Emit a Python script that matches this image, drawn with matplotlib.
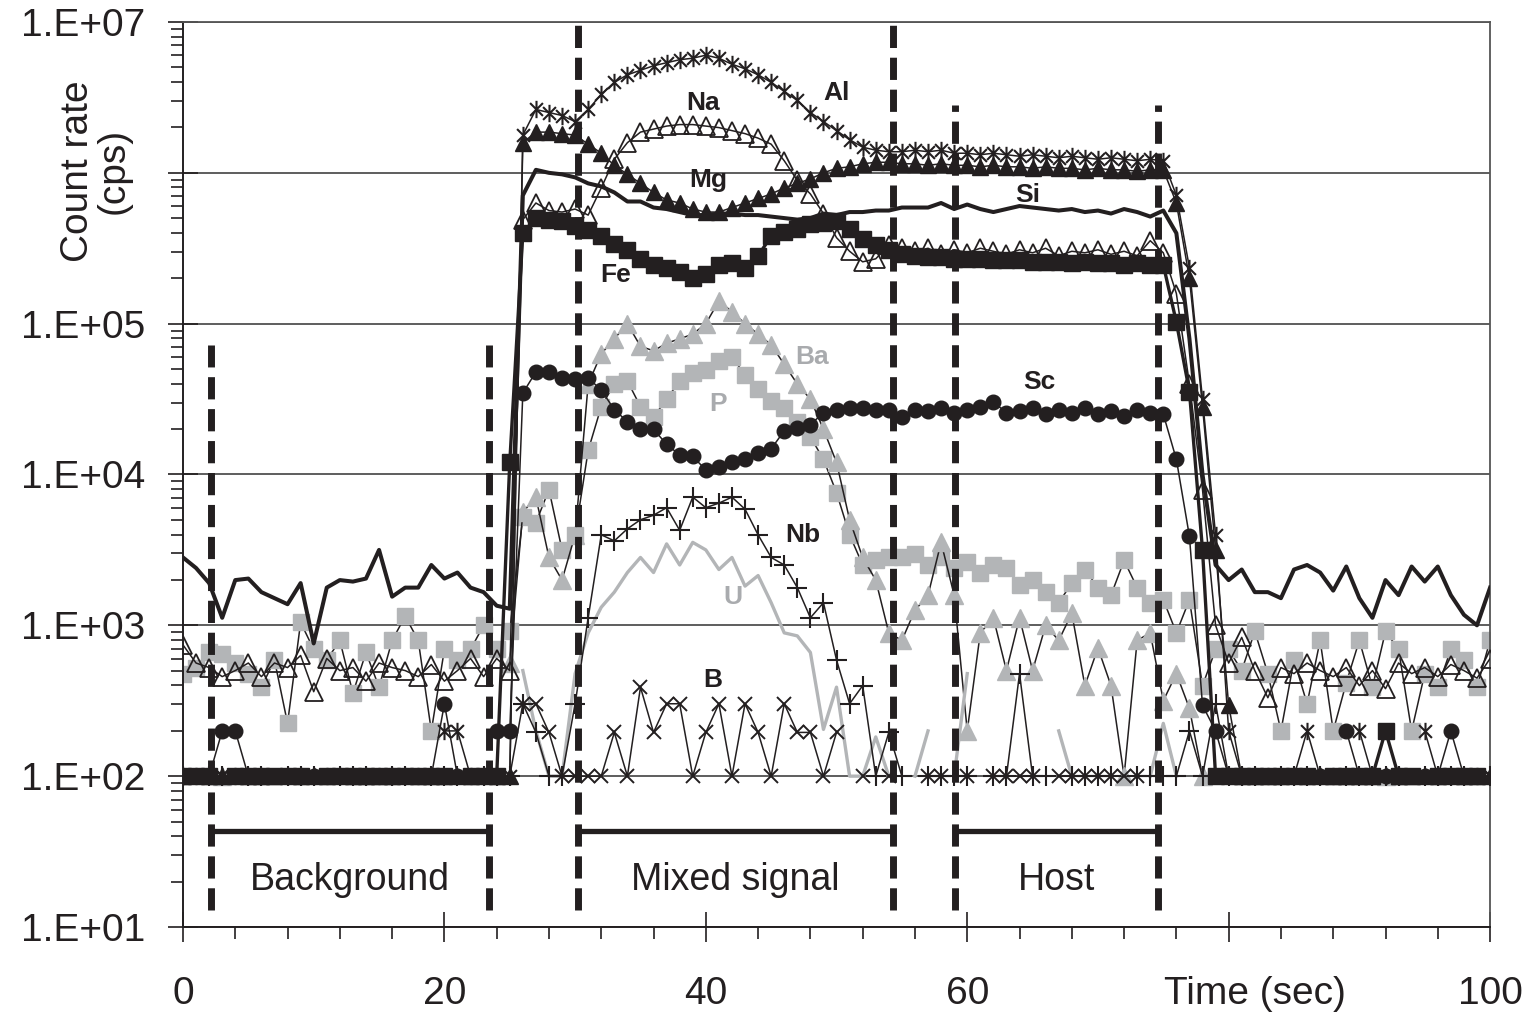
import numpy as np
import matplotlib.pyplot as plt
from matplotlib.path import Path
from matplotlib.ticker import MultipleLocator, LogLocator, NullFormatter

plt.rcParams['font.family'] = ['Liberation Sans', 'DejaVu Sans']

nan = np.nan
# one reading per second, 0..100 s
time_s = np.arange(0, 101)

# count rates, kept as log10(cps); nan = zero counts (not plotted)
si_log = [3.45, 3.38, 3.28, 3.05, 3.30, 3.31, 3.22, 3.18, 3.14, 3.28,
          2.88, 3.25, 3.30, 3.29, 3.31, 3.50, 3.19, 3.25, 3.25, 3.40,
          3.31, 3.35, 3.25, 3.22, 3.13, 3.11, 5.85, 6.02, 6.00, 5.99,
          5.97, 5.93, 5.91, 5.87, 5.81, 5.81, 5.77, 5.76, 5.74, 5.72,
          5.72, 5.73, 5.73, 5.72, 5.72, 5.71, 5.70, 5.69, 5.70, 5.73,
          5.72, 5.74, 5.74, 5.75, 5.75, 5.77, 5.77, 5.77, 5.80, 5.76,
          5.79, 5.76, 5.74, 5.76, 5.78, 5.77, 5.76, 5.75, 5.76, 5.74,
          5.75, 5.73, 5.76, 5.74, 5.71, 5.75, 5.60, 4.90, 4.00, 3.40,
          3.30, 3.37, 3.22, 3.22, 3.18, 3.37, 3.40, 3.35, 3.23, 3.39,
          3.18, 3.05, 3.30, 3.20, 3.39, 3.29, 3.39, 3.20, 3.07, 3.00, 3.25]

al_log = [2.0, 2.0, nan, 2.0, 2.0, 2.0, 2.0, nan, 2.0, 2.0,
          2.0, 2.0, 2.0, nan, 2.0, 2.0, 2.0, 2.0, 2.0, nan,
          2.3, 2.3, 2.0, 2.0, 2.0, 2.0, 6.25, 6.42, 6.40, 6.38,
          6.34, 6.42, 6.52, 6.60, 6.65, 6.68, 6.71, 6.73, 6.75, 6.76,
          6.78, 6.76, 6.72, 6.69, 6.65, 6.60, 6.54, 6.48, 6.40, 6.34,
          6.28, 6.22, 6.17, 6.15, 6.14, 6.14, 6.15, 6.14, 6.15, 6.13,
          6.13, 6.12, 6.13, 6.12, 6.11, 6.12, 6.11, 6.10, 6.11, 6.10,
          6.09, 6.10, 6.09, 6.08, 6.09, 6.08, 5.85, 5.37, 4.50, 3.60,
          2.30, 2.0, 2.0, 2.0, nan, 2.0, 2.30, 2.0, 2.0, nan,
          2.30, 2.0, 2.0, 2.0, nan, 2.30, 2.0, 2.0, 2.0, 2.0, 2.0]

mg_log = [2.0, nan, 2.0, 2.0, nan, 2.0, 2.0, 2.0, nan, 2.0,
          2.0, 2.0, nan, 2.0, 2.0, 2.0, 2.0, nan, 2.0, 2.0,
          2.0, 2.0, 2.0, nan, 2.0, 2.0, 6.20, 6.27, 6.27, 6.26,
          6.25, 6.19, 6.13, 6.05, 5.99, 5.93, 5.87, 5.82, 5.80, 5.76,
          5.74, 5.74, 5.77, 5.80, 5.83, 5.86, 5.90, 5.93, 5.96, 6.00,
          6.03, 6.04, 6.06, 6.07, 6.07, 6.06, 6.06, 6.05, 6.06, 6.05,
          6.05, 6.04, 6.05, 6.04, 6.04, 6.03, 6.04, 6.03, 6.03, 6.02,
          6.03, 6.02, 6.02, 6.01, 6.02, 6.02, 5.80, 5.30, 4.45, 3.50,
          2.47, 2.0, 2.0, 2.0, 2.0, nan, 2.0, 2.0, 2.0, 2.0,
          2.0, 2.0, nan, 2.0, 2.0, 2.0, 2.0, nan, 2.0, 2.0, 2.0]

na_log = [2.87, 2.75, 2.72, 2.66, 2.70, 2.75, 2.66, 2.75, 2.72, 2.80,
          2.56, 2.78, 2.70, 2.72, 2.63, 2.75, 2.72, 2.70, 2.66, 2.74,
          2.63, 2.70, 2.78, 2.66, 2.78, 2.70, 5.69, 5.80, 5.75, 5.74,
          5.76, 5.72, 5.90, 6.09, 6.20, 6.27, 6.29, 6.31, 6.32, 6.32,
          6.31, 6.30, 6.28, 6.26, 6.23, 6.19, 6.08, 5.95, 5.86, 5.73,
          5.57, 5.48, 5.41, 5.43, 5.52, 5.50, 5.48, 5.50, 5.46, 5.49,
          5.47, 5.50, 5.48, 5.46, 5.49, 5.47, 5.50, 5.45, 5.48, 5.47,
          5.49, 5.46, 5.48, 5.45, 5.55, 5.47, 5.20, 4.60, 3.90, 3.00,
          2.75, 2.92, 2.70, 2.52, 2.72, 2.68, 2.75, 2.70, 2.66, 2.72,
          2.60, 2.70, 2.58, 2.75, 2.68, 2.72, 2.66, 2.74, 2.70, 2.65, 2.78]

fe_log = [2.0, 2.0, 2.0, nan, 2.0, 2.0, 2.0, 2.0, 2.0, 2.0,
          nan, 2.0, 2.0, 2.0, 2.0, 2.0, 2.0, 2.0, 2.0, 2.0,
          2.0, nan, 2.0, 2.0, 2.0, 4.08, 5.60, 5.70, 5.69, 5.68,
          5.65, 5.62, 5.58, 5.53, 5.49, 5.43, 5.39, 5.37, 5.34, 5.30,
          5.33, 5.39, 5.40, 5.37, 5.45, 5.58, 5.61, 5.63, 5.66, 5.67,
          5.68, 5.63, 5.56, 5.52, 5.49, 5.46, 5.45, 5.44, 5.44, 5.43,
          5.43, 5.43, 5.42, 5.42, 5.42, 5.41, 5.41, 5.41, 5.40, 5.41,
          5.40, 5.40, 5.39, 5.40, 5.39, 5.39, 5.01, 4.55, 3.50, 2.00,
          2.0, 2.0, 2.0, 2.0, 2.0, 2.0, 2.0, nan, 2.0, 2.0,
          2.0, 2.0, 2.30, 2.0, 2.0, nan, 2.0, 2.0, 2.0, 2.0, nan]

sc_log = [2.0, 2.0, 2.0, 2.3, 2.3, 2.0, 2.0, 2.0, nan, 2.0,
          2.0, 2.0, 2.0, 2.0, nan, 2.0, 2.0, 2.0, 2.0, 2.0,
          2.48, 2.0, 2.0, nan, 2.3, 2.3, 4.54, 4.68, 4.68, 4.64,
          4.63, 4.64, 4.56, 4.43, 4.35, 4.30, 4.30, 4.20, 4.13, 4.12,
          4.03, 4.05, 4.08, 4.10, 4.14, 4.17, 4.29, 4.31, 4.33, 4.41,
          4.43, 4.44, 4.44, 4.43, 4.43, 4.38, 4.43, 4.42, 4.44, 4.41,
          4.43, 4.45, 4.48, 4.41, 4.42, 4.44, 4.40, 4.43, 4.41, 4.44,
          4.40, 4.42, 4.39, 4.43, 4.41, 4.40, 4.10, 3.59, 2.47, 2.30,
          2.0, 2.0, 2.0, 2.0, nan, 2.0, 2.0, 2.0, nan, 2.30,
          2.0, 2.0, 2.0, nan, 2.0, 2.0, 2.0, 2.30, 2.0, 2.0, nan]

ba_log = [nan, nan, nan, 2.0, nan, nan, nan, nan, nan, nan,
          nan, nan, nan, nan, nan, nan, nan, nan, nan, nan,
          nan, nan, nan, nan, nan, 2.75, 3.75, 3.85, 3.45, 3.30,
          3.60, 4.60, 4.80, 4.90, 5.00, 4.85, 4.82, 4.87, 4.90, 4.93,
          5.00, 5.15, 5.08, 5.00, 4.93, 4.86, 4.73, 4.60, 4.50, 4.30,
          4.08, 3.70, 3.45, 3.30, 2.95, 2.90, 3.10, 3.20, 3.55, 3.20,
          2.30, 2.95, 3.05, 2.70, 3.05, 2.70, 3.00, 2.90, 3.08, 2.60,
          2.85, 2.60, 2.00, 2.90, 2.95, 2.50, 2.68, 2.45, 2.00, nan,
          nan, nan, nan, nan, nan, nan, nan, nan, nan, nan,
          nan, nan, 2.0, nan, nan, nan, nan, nan, nan, nan, nan]

p_log = [2.68, 2.72, 2.82, 2.81, 2.75, 2.68, 2.59, 2.77, 2.35, 3.02,
         2.84, 2.77, 2.90, 2.55, 2.82, 2.59, 2.90, 3.06, 2.90, 2.30,
         2.84, 2.77, 2.84, 3.00, 2.84, 2.96, 3.72, 3.68, 3.90, 3.50,
         3.60, 4.16, 4.45, 4.60, 4.62, 4.45, 4.38, 4.50, 4.62, 4.67,
         4.69, 4.75, 4.78, 4.66, 4.57, 4.49, 4.44, 4.35, 4.25, 4.10,
         3.88, 3.60, 3.40, 3.43, 3.45, 3.45, 3.47, 3.40, 3.45, 3.38,
         3.42, 3.35, 3.40, 3.38, 3.27, 3.30, 3.22, 3.15, 3.28, 3.37,
         3.25, 3.20, 3.43, 3.25, 3.15, 3.17, 2.95, 3.17, 2.60, 2.84,
         2.84, 2.70, 2.96, 2.68, 2.30, 2.77, 2.48, 2.90, 2.30, 2.62,
         2.90, 2.59, 2.96, 2.84, 2.30, 2.68, 2.59, 2.84, 2.77, 2.59, 2.90]

nb_log = [2.0, nan, 2.0, 2.0, nan, 2.0, 2.0, nan, 2.0, 2.0,
          2.0, nan, 2.0, 2.0, 2.0, nan, 2.0, 2.0, nan, 2.0,
          2.0, 2.0, nan, 2.0, 2.0, 2.0, 2.48, 2.29, 2.00, 2.00,
          2.48, 3.05, 3.60, 3.56, 3.64, 3.70, 3.73, 3.78, 3.63, 3.85,
          3.78, 3.81, 3.85, 3.77, 3.60, 3.45, 3.40, 3.25, 3.05, 3.15,
          2.77, 2.48, 2.60, 2.00, 2.29, 2.0, nan, 2.0, 2.0, 2.0,
          2.0, nan, 2.0, 2.0, 2.68, 2.0, 2.0, nan, 2.0, 2.0,
          2.0, 2.0, nan, 2.0, 2.0, 2.0, 2.0, 2.30, 2.0, 2.48,
          2.0, 2.0, 2.0, nan, 2.0, 2.0, 2.0, 2.0, nan, 2.0,
          2.0, 2.0, 2.0, 2.0, nan, 2.0, 2.0, 2.0, 2.0, nan, 2.0]

u_log = [nan, nan, nan, nan, nan, nan, nan, nan, nan, nan,
         nan, nan, nan, nan, nan, nan, nan, nan, nan, nan,
         nan, nan, nan, nan, nan, nan, 2.70, 2.30, 2.00, 2.00,
         2.68, 2.95, 3.12, 3.22, 3.35, 3.45, 3.35, 3.54, 3.40, 3.55,
         3.50, 3.37, 3.45, 3.26, 3.33, 3.15, 2.95, 2.93, 2.82, 2.31,
         2.59, 2.00, 2.00, 2.26, 2.00, nan, 2.00, 2.30, nan, 2.00,
         2.68, nan, nan, nan, nan, nan, nan, 2.30, 2.00, nan,
         nan, nan, nan, nan, 2.00, 2.35, 2.00, nan, nan, nan,
         nan, nan, nan, nan, nan, nan, nan, nan, nan, nan,
         nan, nan, nan, nan, nan, nan, nan, nan, nan, nan, nan]

b_log = [2.0, 2.0, nan, 2.0, 2.0, nan, 2.0, 2.0, 2.0, nan,
         2.0, 2.0, 2.0, 2.0, 2.0, nan, 2.0, 2.0, 2.0, 2.0,
         2.0, nan, 2.0, 2.0, 2.0, nan, 2.48, 2.48, 2.29, 2.00,
         2.00, 2.00, 2.00, 2.29, 2.00, 2.59, 2.29, 2.48, 2.48, 2.00,
         2.29, 2.48, 2.00, 2.48, 2.29, 2.00, 2.48, 2.29, 2.29, 2.00,
         2.29, nan, 2.00, nan, 2.00, nan, nan, 2.0, 2.0, nan,
         2.0, nan, 2.0, 2.0, 2.0, 2.0, nan, 2.0, 2.0, 2.0,
         2.0, 2.0, 2.0, 2.0, nan, nan, nan, nan, nan, 2.0,
         2.0, 2.0, 2.0, 2.0, nan, 2.0, 2.0, nan, nan, 2.0,
         2.0, 2.0, 2.0, 2.0, 2.0, 2.0, nan, 2.0, 2.0, 2.0, 2.0]

# signal windows (s)
window_names = ['Background', 'Mixed signal', 'Host']
window_start = [2.15, 30.2, 59.05]
window_end = [23.4, 54.3, 74.6]

black = '#231f20'
grey = '#b3b5b7'
grey_text = '#a9abae'


def cps(vals):
    return 10 ** np.array(vals, dtype=float)


fig = plt.figure(figsize=(15.3, 10.19), dpi=100)
ax = fig.add_axes([0.1196, 0.0903, 0.8543, 0.8881])

# asterisk marker like the spreadsheet "star"
asterisk = Path([(-1, -1), (1, 1), (-1, 1), (1, -1), (0, -1.35), (0, 1.35)],
                [Path.MOVETO, Path.LINETO] * 3)

thin = dict(color=black, lw=1.1)

# grey series underneath
ax.plot(time_s, cps(p_log), marker='s', ms=11, mfc=grey, mec=grey, zorder=2, **thin)
ax.plot(time_s, cps(ba_log), marker='^', ms=13.5, mfc=grey, mec=grey, zorder=2.1, **thin)
ax.plot(time_s, cps(u_log), color=grey, lw=2.4, zorder=2.2)

ax.plot(time_s, cps(b_log), marker='x', ms=9.5, mec=black, mew=1.4, zorder=3, **thin)
ax.plot(time_s, cps(nb_log), marker='+', ms=14, mec=black, mew=1.5, zorder=3.1, **thin)
ax.plot(time_s, cps(sc_log), marker='o', ms=10.5, mfc=black, mec=black, zorder=3.5, **thin)

ax.plot(time_s, cps(na_log), marker='^', ms=12.5, mfc='none', mec=black, mew=1.3,
        zorder=4, **thin)
ax.plot(time_s, cps(fe_log), marker='s', ms=11, mfc=black, mec=black,
        color=black, lw=2.4, zorder=4.5)
ax.plot(time_s, cps(mg_log), marker='^', ms=12, mfc=black, mec=black, zorder=5, **thin)
ax.plot(time_s, cps(al_log), marker=asterisk, ms=12.5, mfc='none', mec=black, mew=1.5,
        zorder=5.5, **thin)
ax.plot(time_s, cps(si_log), color=black, lw=2.9, zorder=6, solid_joinstyle='round')

# dashed window boundaries
guide_t = [2.15, 23.4, 30.2, 54.3, 59.05, 74.6]
guide_top = [7.2e4, 7.2e4, 1e7, 1e7, 2.8e6, 2.8e6]
for gt, top in zip(guide_t, guide_top):
    ax.plot([gt, gt], [13, top], color=black, lw=5, ls='--', dashes=(3.2, 1.4),
            zorder=7, solid_capstyle='butt', dash_capstyle='butt')

for name, t0, t1 in zip(window_names, window_start, window_end):
    ax.plot([t0, t1], [43, 43], color=black, lw=3.8, zorder=7, solid_capstyle='butt')
    ax.text((t0 + t1) / 2, 20.5, name, fontsize=27, ha='center', va='center',
            color=black)

# element labels
labels = [('Al', 50.0, 6.53, black), ('Na', 39.8, 6.46, black),
          ('Mg', 40.2, 5.95, black), ('Si', 64.65, 5.85, black),
          ('Fe', 33.1, 5.32, black), ('Ba', 48.1, 4.78, grey_text),
          ('P', 40.9, 4.47, grey_text), ('Sc', 65.5, 4.61, black),
          ('Nb', 47.4, 3.60, black), ('U', 42.1, 3.19, grey_text),
          ('B', 40.5, 2.64, black)]
for txt, lx, ly, col in labels:
    ax.text(lx, 10 ** ly, txt, fontsize=19, fontweight='bold', color=col,
            ha='center', va='center', zorder=8)

# axes
ax.set_yscale('log')
ax.set_xlim(0, 100)
ax.set_ylim(10, 1e7)
ax.set_xticks([0, 20, 40, 60, 80, 100])
ax.set_xticklabels(['0', '20', '40', '60', '', '100'])
ax.xaxis.set_minor_locator(MultipleLocator(4))
ax.set_yticks([1e1, 1e2, 1e3, 1e4, 1e5, 1e6, 1e7])
ax.set_yticklabels(['1.E+01', '1.E+02', '1.E+03', '1.E+04', '1.E+05', '', '1.E+07'])
ax.yaxis.set_minor_locator(LogLocator(base=10, subs=range(2, 10), numticks=20))
ax.yaxis.set_minor_formatter(NullFormatter())
ax.tick_params(which='major', direction='inout', length=22, width=1.2,
               labelsize=28, colors=black)
ax.tick_params(axis='y', which='major', pad=16)
ax.tick_params(axis='x', which='major', pad=24)
ax.tick_params(which='minor', direction='out', length=8.5, width=1.2, colors=black)

ax.yaxis.grid(True, which='major', color='#505050', lw=1.3)
ax.set_axisbelow(True)
for side in ['top', 'right']:
    ax.spines[side].set_color('#555555')
    ax.spines[side].set_linewidth(1.3)
for side in ['left', 'bottom']:
    ax.spines[side].set_color(black)
    ax.spines[side].set_linewidth(1.4)

ax.text(-0.0666, 0.835, 'Count rate\n(cps)', transform=ax.transAxes, rotation=90,
        ha='center', va='center', fontsize=28, linespacing=1.0, color=black)
ax.annotate('Time (sec)', xy=(82, -0.0745), xycoords=('data', 'axes fraction'),
            ha='center', va='center', fontsize=28, color=black, annotation_clip=False)

fig.savefig('out.png', dpi=100)
